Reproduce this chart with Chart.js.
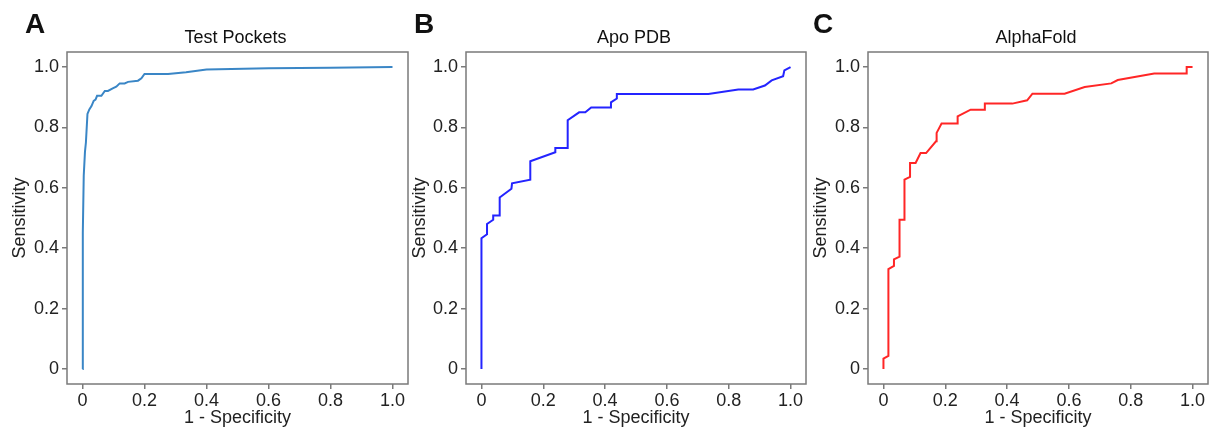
<!DOCTYPE html>
<html>
<head>
<meta charset="utf-8">
<script src="https://cdn.jsdelivr.net/npm/chart.js@4.4.1/dist/chart.umd.min.js"></script>
<style>
  html, body { margin: 0; padding: 0; background: #fff; }
  #wrap { position: relative; width: 1216px; height: 435px; overflow: hidden; }
  .panel { position: absolute; top: 0; }
</style>
</head>
<body>
<div id="wrap">
  <div class="panel" style="left:0px"><canvas id="rocA" width="410" height="435"></canvas></div>
  <div class="panel" style="left:400px"><canvas id="rocB" width="410" height="435"></canvas></div>
  <div class="panel" style="left:800px"><canvas id="rocC" width="416" height="435"></canvas></div>
</div>
<script>
// tick positions and labels (both axes)
var tickValues = [0, 0.2, 0.4, 0.6, 0.8, 1.0];
var tickLabels = ['0', '0.2', '0.4', '0.6', '0.8', '1.0'];

// A - Test Pockets
var fprA = [0, 0.001, 0.004, 0.008, 0.011, 0.016, 0.022, 0.029, 0.036, 0.042, 0.047, 0.061, 0.072, 0.082, 0.099, 0.109, 0.12, 0.136, 0.147, 0.179, 0.19, 0.2, 0.276, 0.334, 0.4, 0.6, 0.8, 1.0];
var tprA = [0, 0.45, 0.64, 0.72, 0.75, 0.845, 0.86, 0.871, 0.888, 0.892, 0.905, 0.905, 0.921, 0.921, 0.930, 0.935, 0.946, 0.946, 0.951, 0.955, 0.963, 0.977, 0.977, 0.983, 0.992, 0.996, 0.998, 1.0];

// B - Apo PDB
var fprB = [0, 0, 0.018, 0.018, 0.038, 0.038, 0.059, 0.059, 0.097, 0.099, 0.158, 0.158, 0.239, 0.239, 0.279, 0.279, 0.316, 0.336, 0.355, 0.419, 0.419, 0.438, 0.438, 0.734, 0.831, 0.879, 0.917, 0.939, 0.976, 0.98, 1.0];
var tprB = [0, 0.433, 0.446, 0.48, 0.494, 0.508, 0.508, 0.568, 0.597, 0.615, 0.627, 0.688, 0.718, 0.732, 0.732, 0.824, 0.85, 0.85, 0.866, 0.866, 0.883, 0.896, 0.911, 0.911, 0.926, 0.926, 0.939, 0.956, 0.97, 0.989, 1.0];

// C - AlphaFold
var fprC = [0, 0, 0.016, 0.016, 0.034, 0.034, 0.052, 0.052, 0.068, 0.068, 0.086, 0.086, 0.104, 0.12, 0.138, 0.17, 0.172, 0.188, 0.24, 0.24, 0.282, 0.328, 0.328, 0.417, 0.465, 0.482, 0.586, 0.651, 0.737, 0.758, 0.876, 0.981, 0.981, 1.0];
var tprC = [0, 0.034, 0.043, 0.331, 0.341, 0.363, 0.372, 0.494, 0.494, 0.627, 0.636, 0.682, 0.682, 0.715, 0.715, 0.754, 0.782, 0.813, 0.813, 0.837, 0.859, 0.859, 0.879, 0.879, 0.890, 0.912, 0.912, 0.934, 0.946, 0.957, 0.979, 0.979, 1.0, 1.0];

Chart.defaults.font.family = "'Liberation Sans', Arial, sans-serif";
Chart.defaults.color = '#222';

var frameColor = '#7a7a7a';

// box around the plot area + panel letter and title
var framePlugin = {
    id: 'panelFrame',
    afterDraw: function (chart, args, opts) {
        var ctx = chart.ctx;
        var a = chart.chartArea;
        ctx.save();
        ctx.strokeStyle = frameColor;
        ctx.lineWidth = 1.5;
        ctx.strokeRect(a.left, a.top, a.right - a.left, a.bottom - a.top);
        ctx.fillStyle = '#111';
        ctx.textBaseline = 'alphabetic';
        ctx.font = "bold 28px 'Liberation Sans', Arial, sans-serif";
        ctx.textAlign = 'left';
        ctx.fillText(opts.letter, opts.letterX, 33);
        ctx.font = "18px 'Liberation Sans', Arial, sans-serif";
        ctx.textAlign = 'center';
        ctx.fillText(opts.title, (a.left + a.right) / 2 - 2, 42.5);
        ctx.restore();
    }
};

function makeRoc(id, letter, title, fpr, tpr, color, pad, yWidth, letterX) {
    var pts = fpr.map(function (x, i) { return { x: x, y: tpr[i] }; });
    var grid = {
        display: true,
        drawOnChartArea: false,
        drawTicks: true,
        tickLength: 5,
        color: frameColor,
        lineWidth: 1.5
    };
    return new Chart(document.getElementById(id), {
        type: 'line',
        data: {
            datasets: [{
                data: pts,
                borderColor: color,
                borderWidth: 2,
                pointRadius: 0,
                tension: 0,
                fill: false
            }]
        },
        options: {
            responsive: false,
            animation: false,
            layout: { padding: { left: pad[0], top: 52, right: pad[1], bottom: 2 } },
            plugins: {
                legend: { display: false },
                tooltip: { enabled: false },
                panelFrame: { letter: letter, title: title, letterX: letterX }
            },
            scales: {
                x: {
                    type: 'linear',
                    min: -0.05,
                    max: 1.05,
                    grid: grid,
                    border: { display: false },
                    afterBuildTicks: function (s) { s.ticks = tickValues.map(function (v) { return { value: v }; }); },
                    afterFit: function (s) { s.height = 49; },
                    ticks: {
                        padding: 1,
                        maxRotation: 0,
                        autoSkip: false,
                        font: { size: 18 },
                        callback: function (v, i) { return tickLabels[i]; }
                    },
                    title: { display: true, text: '1 - Specificity', font: { size: 18 }, padding: 4 }
                },
                y: {
                    type: 'linear',
                    min: -0.05,
                    max: 1.05,
                    grid: grid,
                    border: { display: false },
                    afterBuildTicks: function (s) { s.ticks = tickValues.map(function (v) { return { value: v }; }); },
                    afterFit: function (s) { s.width = yWidth; },
                    ticks: {
                        padding: 3,
                        autoSkip: false,
                        font: { size: 18 },
                        callback: function (v, i) { return tickLabels[i]; }
                    },
                    title: { display: true, text: 'Sensitivity', font: { size: 18 }, padding: 4 }
                }
            }
        },
        plugins: [framePlugin]
    });
}

makeRoc('rocA', 'A', 'Test Pockets', fprA, tprA, '#3a86c6', [5, 2], 62, 25);
makeRoc('rocB', 'B', 'Apo PDB', fprB, tprB, '#2424ff', [5, 4], 61, 14);
makeRoc('rocC', 'C', 'AlphaFold', fprC, tprC, '#ff2626', [6, 8], 62, 13);
</script>
</body>
</html>
